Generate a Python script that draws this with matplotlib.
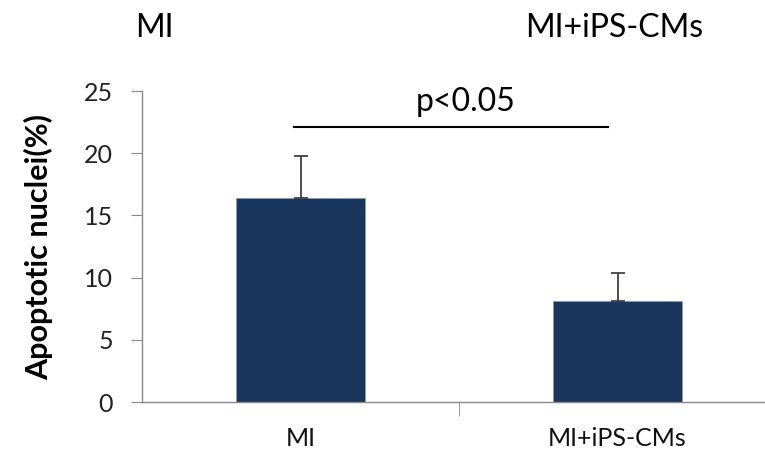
import matplotlib.pyplot as plt
from matplotlib.ticker import FixedLocator

groups = ['MI', 'MI+iPS-CMs']
values = [16.4, 8.15]
errors = [3.4, 2.2]
sig_text = 'p<0.05'
sig_level = 22.1

plt.rcParams['font.family'] = ['Lato', 'DejaVu Sans']

fig = plt.figure(figsize=(7.65, 4.61), dpi=100)
ax = fig.add_axes([142 / 765, 1 - 402 / 461, 634 / 765, 311 / 461])

x = list(range(len(groups)))
ax.bar(x, values, width=0.404, color='#1b365d', edgecolor='#8a9bb0', linewidth=0.6, zorder=2)
ax.errorbar(x, values, yerr=[[0] * len(errors), errors], fmt='none',
            ecolor='#404040', elinewidth=1.3, capsize=5, capthick=1.3, zorder=3)

ax.set_xlim(-0.5, 1.5)
ax.set_ylim(0, 25)
ax.set_yticks([0, 5, 10, 15, 20, 25])
ax.tick_params(axis='y', labelsize=18, length=8, color='#888888', labelcolor='#222222', pad=13)
ax.set_xticks(x)
ax.set_xticklabels(groups)
ax.tick_params(axis='x', which='major', length=0, labelsize=18, pad=18, labelcolor='#111111')
ax.xaxis.set_minor_locator(FixedLocator([0.5]))
ax.tick_params(axis='x', which='minor', length=10, color='#888888')

for s in ['top', 'right']:
    ax.spines[s].set_visible(False)
for s in ['left', 'bottom']:
    ax.spines[s].set_color('#888888')
    ax.spines[s].set_linewidth(1)

ax.set_ylabel('Apoptotic nuclei(%)', fontsize=22, fontweight='bold', labelpad=22)

# significance bar
ax.plot([-0.02, 0.97], [sig_level, sig_level], color='black', lw=1.5, clip_on=False)
ax.text(0.52, sig_level + 0.8, sig_text, ha='center', va='bottom', fontsize=23)

# group titles at the top
fig.text(135 / 765, 1 - 28 / 461, groups[0], ha='left', va='center', fontsize=23)
fig.text(614 / 765, 1 - 28 / 461, groups[1], ha='center', va='center', fontsize=23)

fig.savefig('out.png', dpi=100)
